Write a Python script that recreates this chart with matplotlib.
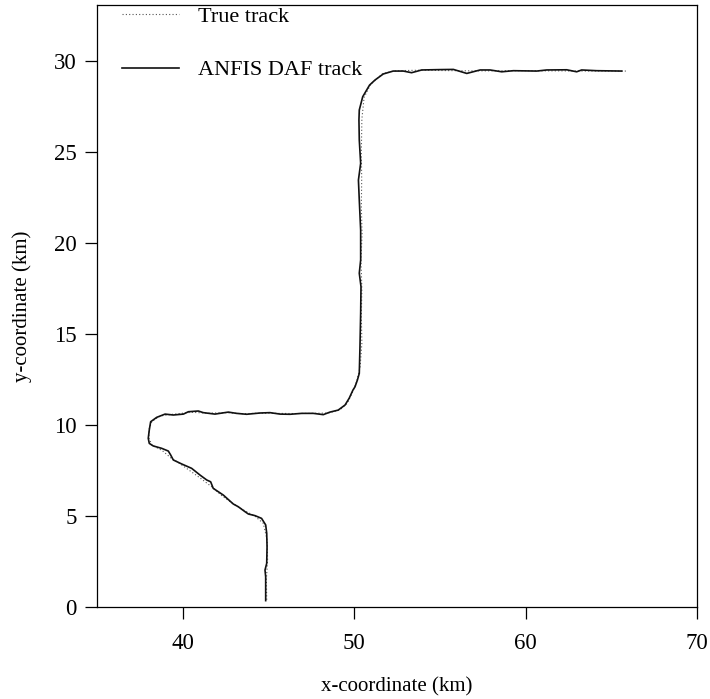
import matplotlib
matplotlib.use("Agg")
import matplotlib.pyplot as plt

# ── Track data (km) ──────────────────────────────────────────────────────────
anfis_x = [44.84, 44.84, 44.80, 44.90, 44.92, 44.90, 44.84, 44.60, 44.22, 43.83,
           43.63, 43.24, 42.95, 42.37, 41.78, 41.63, 41.40, 41.01, 40.52, 39.94,
           39.45, 39.30, 39.16, 38.77, 38.28, 38.05, 37.99, 38.05, 38.13, 38.48,
           38.97, 39.45, 40.04, 40.33, 40.91, 41.20, 41.88, 42.66, 43.14, 43.73,
           44.51, 45.09, 45.68, 46.26, 46.94, 47.62, 48.20, 48.59, 49.07, 49.47,
           49.71, 49.93, 50.05, 50.19, 50.30, 50.34, 50.38, 50.40, 50.30, 50.38,
           50.38, 50.30, 50.25, 50.38, 50.30, 50.28, 50.30, 50.50, 50.90, 51.22,
           51.70, 52.28, 52.87, 53.35, 53.55, 53.94, 55.01, 55.79, 56.57, 57.35,
           57.93, 58.61, 59.29, 60.65, 61.23, 62.40, 62.98, 63.27, 64.15, 65.61]
anfis_y = [0.35, 1.66, 2.03, 2.40, 3.31, 4.05, 4.51, 4.87, 5.02, 5.11,
           5.24, 5.51, 5.66, 6.15, 6.52, 6.88, 6.98, 7.25, 7.62, 7.86,
           8.08, 8.35, 8.57, 8.72, 8.85, 8.99, 9.27, 9.73, 10.18, 10.42,
           10.60, 10.55, 10.60, 10.73, 10.77, 10.68, 10.60, 10.71, 10.64, 10.59,
           10.66, 10.68, 10.60, 10.59, 10.64, 10.64, 10.57, 10.71, 10.82, 11.10,
           11.47, 11.92, 12.10, 12.47, 12.84, 14.30, 16.14, 17.60, 18.34, 19.07,
           20.71, 22.36, 23.46, 24.38, 25.66, 26.76, 27.31, 28.04, 28.68, 28.96,
           29.29, 29.45, 29.45, 29.36, 29.41, 29.51, 29.53, 29.54, 29.32, 29.51,
           29.51, 29.41, 29.47, 29.45, 29.51, 29.52, 29.41, 29.51, 29.47, 29.45]

true_x = [44.90, 44.88, 44.95, 44.92, 44.70, 44.20, 43.60, 42.90, 42.30, 41.70,
          41.00, 40.40, 39.80, 39.30, 38.80, 38.20, 38.02, 38.05, 38.20, 38.70,
          39.50, 40.50, 41.50, 42.50, 43.50, 44.50, 45.50, 46.50, 47.50, 48.50,
          49.20, 49.60, 49.90, 50.15, 50.35, 50.45, 50.42, 50.45, 50.40, 50.46,
          50.42, 50.44, 50.42, 50.45, 50.58, 50.95, 51.65, 52.30, 53.00, 54.00,
          55.00, 56.00, 57.00, 58.00, 59.00, 60.00, 61.00, 62.00, 63.00, 64.00,
          65.00, 65.90]
true_y = [0.40, 1.50, 2.60, 3.70, 4.60, 5.00, 5.30, 5.70, 6.10, 6.60,
          7.10, 7.50, 7.90, 8.20, 8.60, 8.90, 9.30, 9.80, 10.20, 10.50,
          10.60, 10.70, 10.65, 10.68, 10.62, 10.65, 10.64, 10.63, 10.64, 10.66,
          10.85, 11.20, 11.80, 12.40, 13.20, 14.50, 16.00, 17.50, 19.00, 20.50,
          22.00, 23.50, 25.00, 26.80, 28.00, 28.70, 29.30, 29.45, 29.48, 29.50,
          29.48, 29.47, 29.46, 29.46, 29.47, 29.47, 29.46, 29.46, 29.45, 29.45,
          29.45, 29.45]

x_ticks = [40, 50, 60, 70]
y_ticks = [0, 5, 10, 15, 20, 25, 30]

# ── Plot ─────────────────────────────────────────────────────────────────────
plt.rcParams["font.family"] = ["Liberation Serif", "DejaVu Serif"]

fig = plt.figure(figsize=(7.10, 6.99), dpi=100)
ax = fig.add_axes([97 / 710, 1 - 607 / 699, 600 / 710, 602 / 699])

ax.plot(true_x, true_y, linestyle=(0, (1, 2)), color="#555555", lw=0.8,
        label="True track")
ax.plot(anfis_x, anfis_y, linestyle="-", color="#111111", lw=1.2,
        label="ANFIS DAF track")

ax.set_xlim(35, 70)
ax.set_ylim(0, 33.08)
ax.set_xticks(x_ticks)
ax.set_yticks(y_ticks)
ax.tick_params(direction="out", length=8.5, width=0.9, labelsize=16.5,
               top=False, right=False, pad=6)
ax.tick_params(axis="x", pad=10)
for sp in ax.spines.values():
    sp.set_linewidth(0.9)

ax.set_xlabel("x-coordinate (km)", fontsize=15, labelpad=17)
ax.set_ylabel("y-coordinate (km)", fontsize=15, labelpad=16)

ax.legend(loc="upper left", bbox_to_anchor=(0.038, 1.002), frameon=False,
          fontsize=16, handlelength=2.55, handletextpad=0.85,
          labelspacing=1.5, borderaxespad=0, borderpad=0.1)

fig.savefig("out.png", dpi=100)
